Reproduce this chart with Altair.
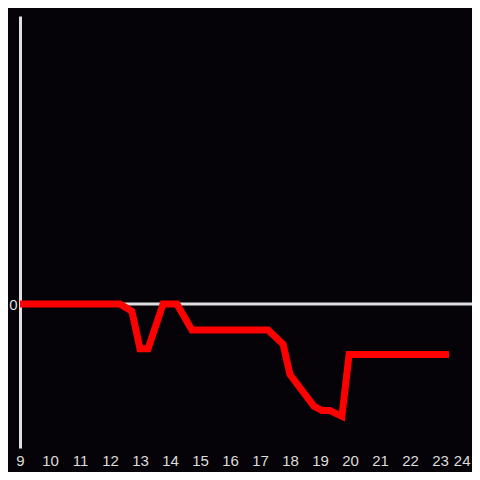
import altair as alt
import pandas as pd

hours = [9.0, 12.33, 12.73, 13.0, 13.27, 13.77, 14.23, 14.73, 17.27, 17.77,
         18.0, 18.8, 19.07, 19.33, 19.73, 19.97, 23.3]
values = [0, 0, -0.05, -0.31, -0.31, 0, 0, -0.18, -0.18, -0.28,
          -0.49, -0.71, -0.74, -0.74, -0.78, -0.35, -0.35]
x_ticks = list(range(9, 25))

df = pd.DataFrame({"hour": hours, "value": values})

xs = alt.Scale(domain=[9, 24], nice=False, zero=False)
ys = alt.Scale(domain=[-1, 2], nice=False, zero=False)

zero = alt.Chart(pd.DataFrame({"y": [0]})).mark_rule(color="#dddddd", strokeWidth=3).encode(
    y=alt.Y("y:Q", scale=ys),
    x=alt.value(0),
    x2=alt.value(452),
)

line = alt.Chart(df).mark_line(color="#ff0000", strokeWidth=7).encode(
    x=alt.X("hour:Q", scale=xs, title=None,
            axis=alt.Axis(values=x_ticks, domain=False, ticks=False, grid=False,
                          labelColor="#dddddd", labelFontSize=15, labelPadding=5,
                          labelFont="Liberation Sans", format="d",
                          labelAlign=alt.expr("datum.value == 24 ? 'right' : 'center'"))),
    y=alt.Y("value:Q", scale=ys, title=None,
            axis=alt.Axis(values=[0], domain=True, domainColor="#e0e0e0", domainWidth=3,
                          ticks=False, tickSize=0, grid=False, labelColor="#dddddd",
                          labelFontSize=15, labelPadding=3, labelFont="Liberation Sans")),
)

chart = alt.layer(zero, line).properties(
    width=450, height=432,
    background="#050307",
    padding={"left": 12, "top": 8, "right": 2, "bottom": 24},
    autosize=alt.AutoSizeParams(type="none"),
).configure_view(stroke=None, fill="#050307")

chart.save("out.html", embed_options={"renderer": "svg", "actions": False})
